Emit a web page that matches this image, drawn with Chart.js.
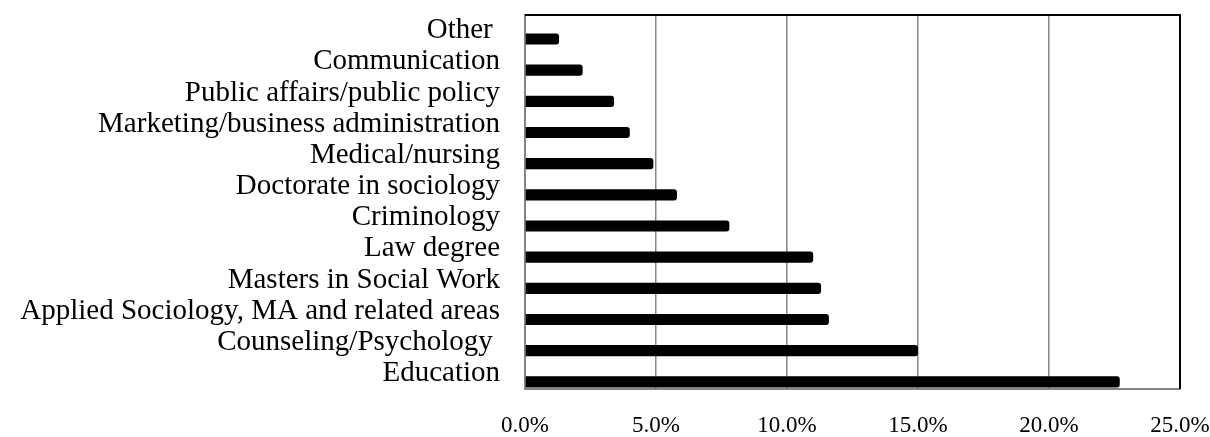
<!DOCTYPE html>
<html>
<head>
<meta charset="utf-8">
<script src="https://cdn.jsdelivr.net/npm/chart.js@4"></script>
<style>
  html, body { margin: 0; padding: 0; background: #ffffff; }
  #wrap { width: 1210px; height: 437px; }
</style>
</head>
<body>
<div id="wrap"><canvas id="chart" width="1210" height="437"></canvas></div>
<script>
// Fields of graduate study (listed bottom to top), share of respondents in percent
const categories = [
  'Education',
  'Counseling/Psychology ',
  'Applied Sociology, MA and related areas',
  'Masters in Social Work',
  'Law degree',
  'Criminology',
  'Doctorate in sociology',
  'Medical/nursing',
  'Marketing/business administration',
  'Public affairs/public policy',
  'Communication',
  'Other '
];
const shares = [22.7, 15.0, 11.6, 11.3, 11.0, 7.8, 5.8, 4.9, 4.0, 3.4, 2.2, 1.3];
// empty first series of the cluster: keeps each bar in the lower part of its row
const emptySeries = [null, null, null, null, null, null, null, null, null, null, null, null];
const xTickLabels = ['0.0%', '5.0%', '10.0%', '15.0%', '20.0%', '25.0%'];

const serif = 'Liberation Serif, Times New Roman, serif';

// black frame on the top and right edges of the plot
const frame = {
  id: 'frame',
  afterDraw(chart) {
    const { ctx, chartArea: a } = chart;
    ctx.save();
    ctx.strokeStyle = '#000000';
    ctx.lineWidth = 2;
    ctx.beginPath();
    ctx.moveTo(a.left, a.top);
    ctx.lineTo(a.right, a.top);
    ctx.lineTo(a.right, a.bottom);
    ctx.stroke();
    ctx.restore();
  }
};

new Chart(document.getElementById('chart'), {
  type: 'bar',
  data: {
    labels: categories,
    datasets: [
      { data: emptySeries, backgroundColor: 'rgba(0,0,0,0)' },
      { data: shares, backgroundColor: '#000000', borderRadius: 3, borderSkipped: 'start' }
    ]
  },
  options: {
    indexAxis: 'y',
    responsive: false,
    animation: false,
    devicePixelRatio: 1,
    categoryPercentage: 1.08,
    barPercentage: 0.66,
    layout: { padding: { top: 15, right: 30, bottom: 0, left: 0 } },
    plugins: { legend: { display: false }, tooltip: { enabled: false } },
    scales: {
      x: {
        min: 0,
        max: 25,
        ticks: {
          stepSize: 5,
          padding: 23,
          color: '#000000',
          font: { family: serif, size: 23 },
          callback: (v, i) => xTickLabels[i]
        },
        grid: { color: '#858585', lineWidth: 1.5, drawTicks: false },
        border: { display: true, color: '#858585', width: 2 },
        afterFit(scale) {
          scale.height = 48;
          scale.paddingLeft = 0;
          scale.paddingRight = 0;
        }
      },
      y: {
        reverse: true,
        ticks: {
          padding: 25,
          color: '#000000',
          font: { family: serif, size: 29 },
          autoSkip: false
        },
        grid: { display: false, drawTicks: false },
        border: { display: true, color: '#858585', width: 2 },
        afterFit(scale) {
          scale.width = 525;
          scale.paddingTop = 0;
          scale.paddingBottom = 0;
        }
      }
    }
  },
  plugins: [frame]
});
</script>
</body>
</html>
